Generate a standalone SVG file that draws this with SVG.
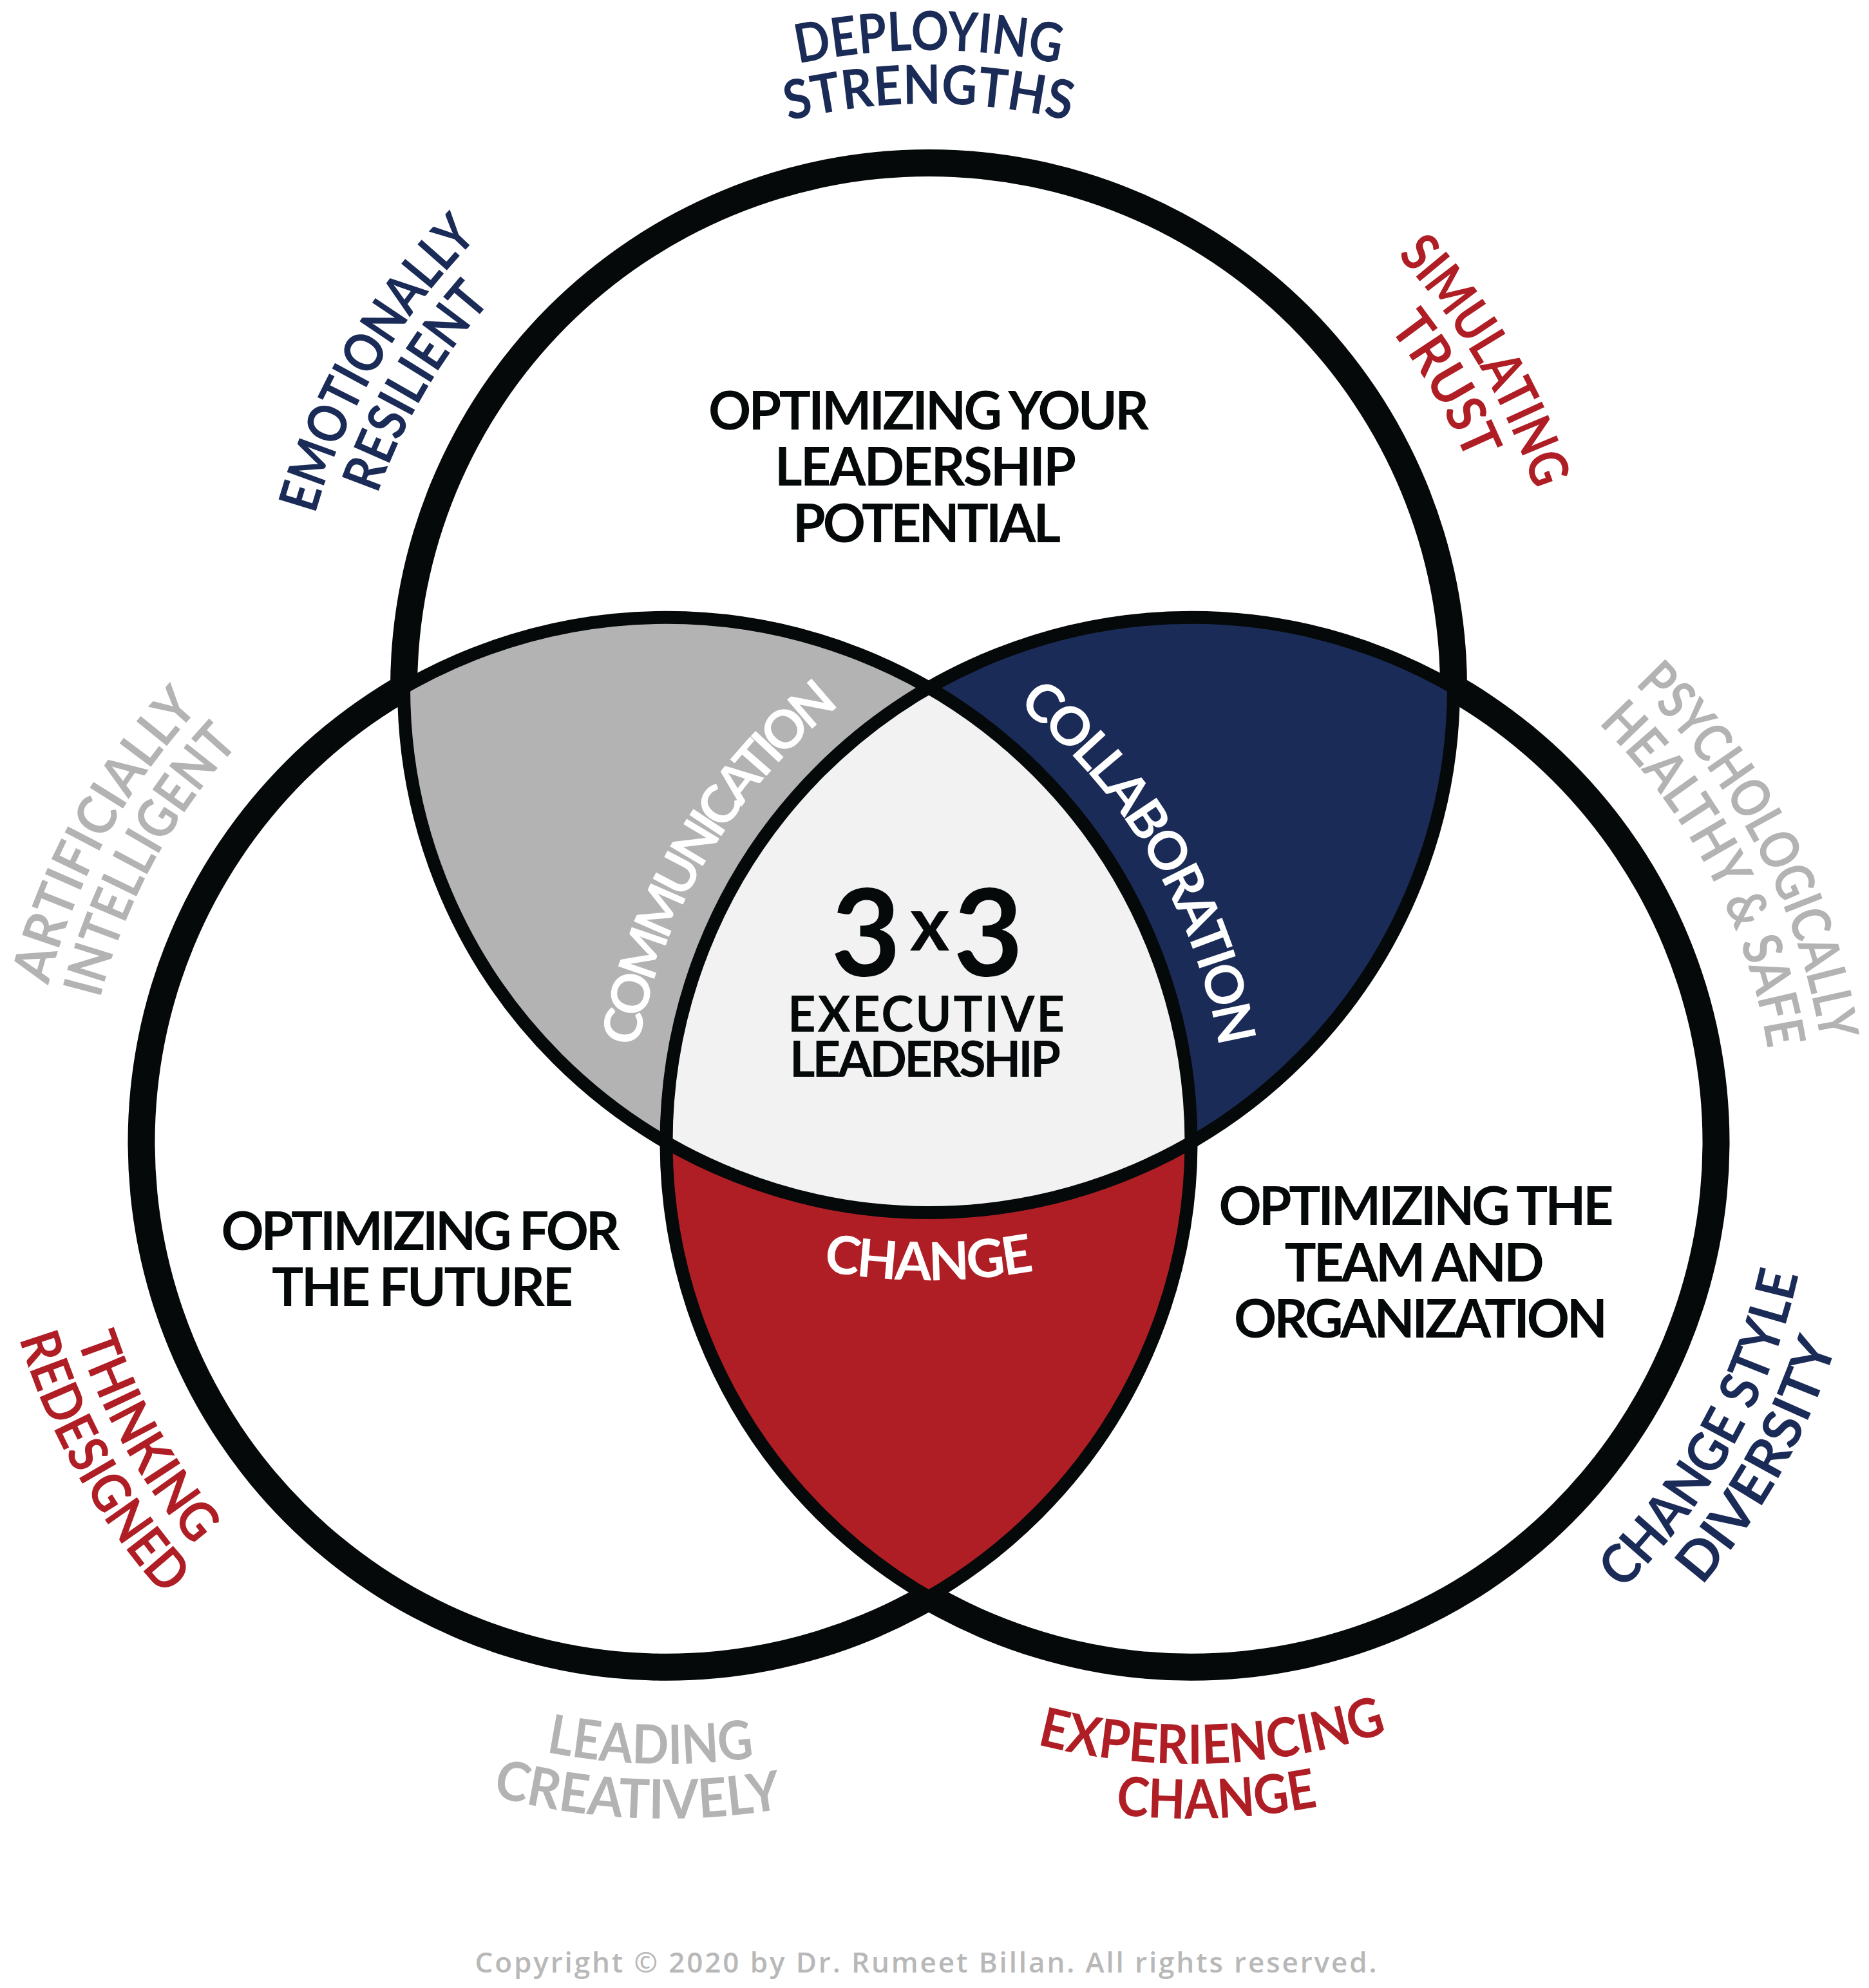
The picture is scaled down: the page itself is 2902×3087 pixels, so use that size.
<svg xmlns="http://www.w3.org/2000/svg" xmlns:xlink="http://www.w3.org/1999/xlink" width="2902" height="3087" viewBox="0 0 2902 3087">
  <style>
    .t { font-family: Lato, 'Open Sans', 'Liberation Sans', sans-serif; font-weight: 700; }
    .outer { font-size: 84px; text-anchor: middle; }
    .inner { font-size: 82px; text-anchor: middle; fill: #050909; }
    .white { font-size: 82px; text-anchor: middle; fill: #ffffff; }
    .navy { fill: #1b2b57; }
    .red { fill: #b01e25; }
    .grey { fill: #b3b3b3; }
    .band { fill: #050909; }
    .hole { fill: #ffffff; }
    .ring { fill: none; stroke: #050909; stroke-width: 20; }
  </style>
  <defs>
    <clipPath id="clipT"><circle cx="1442" cy="1068" r="815"/></clipPath>
    <clipPath id="clipL"><circle cx="1034.5" cy="1773.8" r="815"/></clipPath>
    <clipPath id="clipR"><circle cx="1849.5" cy="1773.8" r="815"/></clipPath>
    <!-- top circle label arcs -->
    <path id="pDeploy" d="M741.96,367.96 A990,990 0 0 1 2142.04,367.96"/>
    <path id="pStrength" d="M800.65,426.65 A907,907 0 0 1 2083.35,426.65"/>
    <path id="pEmot" d="M484.0,1317.6 A990,990 0 0 1 1192.4,110.0"/>
    <path id="pResil" d="M564.3,1296.7 A907,907 0 0 1 1213.3,190.3"/>
    <path id="pSimul" d="M1691.6,110.0 A990,990 0 0 1 2400.0,1317.6"/>
    <path id="pTrust" d="M1670.7,190.3 A907,907 0 0 1 2319.7,1296.7"/>
    <!-- left circle label arcs -->
    <path id="pArtif" d="M84.8,2053.3 A990,990 0 0 1 755.0,824.1"/>
    <path id="pIntel" d="M164.4,2029.8 A907,907 0 0 1 778.5,903.7"/>
    <path id="pThink" d="M104.6,1515.9 A965,965 0 0 0 776.6,2703.7"/>
    <path id="pRedes" d="M22.7,1493.2 A1050,1050 0 0 0 753.9,2785.6"/>
    <path id="pLead" d="M334.5,2438.1 A965,965 0 0 0 1698.8,2473.8"/>
    <path id="pCreat" d="M260.3,2483.2 A1050,1050 0 0 0 1743.9,2548.0"/>
    <!-- right circle label arcs -->
    <path id="pPsych" d="M2147.2,829.6 A990,990 0 0 1 2793.7,2071.5"/>
    <path id="pHealthy" d="M2122.2,908.8 A907,907 0 0 1 2714.5,2046.5"/>
    <path id="pStyle" d="M2112.3,2702.3 A965,965 0 0 0 2778.0,1511.0"/>
    <path id="pDivers" d="M2135.4,2784.1 A1050,1050 0 0 0 2859.8,1487.9"/>
    <path id="pExper" d="M1191.4,2479.6 A965,965 0 0 0 2555.3,2431.9"/>
    <path id="pChange2" d="M1136.1,2544.2 A1050,1050 0 0 0 2619.9,2487.2"/>
    <!-- region label arcs -->
    <path id="pComm" d="M1006.3,1991.9 A871,871 0 0 1 1631.4,930.6"/>
    <path id="pCollab" d="M1252.6,930.6 A871,871 0 0 1 1877.7,1991.9"/>
    <path id="pChange" d="M791.5,1718.5 A920,920 0 0 0 2092.5,1718.5"/>
  </defs>

  <rect width="2902" height="3087" fill="#ffffff"/>

  <g id="venn">
    <g id="outer-band">
      <circle class="band" cx="1442" cy="1068" r="836"/>
      <circle class="band" cx="1034.5" cy="1773.8" r="836"/>
      <circle class="band" cx="1849.5" cy="1773.8" r="836"/>
      <circle class="hole" cx="1442" cy="1068" r="794"/>
      <circle class="hole" cx="1034.5" cy="1773.8" r="794"/>
      <circle class="hole" cx="1849.5" cy="1773.8" r="794"/>
    </g>
    <g id="region-communication">
      <circle cx="1034.5" cy="1773.8" r="815" fill="#b3b3b3" clip-path="url(#clipT)"/>
    </g>
    <g id="region-collaboration">
      <circle cx="1849.5" cy="1773.8" r="815" fill="#1b2b57" clip-path="url(#clipT)"/>
    </g>
    <g id="region-change">
      <circle cx="1849.5" cy="1773.8" r="815" fill="#b01e25" clip-path="url(#clipL)"/>
    </g>
    <g id="region-core" clip-path="url(#clipR)">
      <circle cx="1442" cy="1068" r="815" fill="#f2f2f2" clip-path="url(#clipL)"/>
    </g>
    <g id="rings">
      <circle class="ring" cx="1442" cy="1068" r="815"/>
      <circle class="ring" cx="1034.5" cy="1773.8" r="815"/>
      <circle class="ring" cx="1849.5" cy="1773.8" r="815"/>
    </g>
  </g>

  <g id="node-top">
    <text class="t inner" x="1442" y="667" textLength="684" lengthAdjust="spacing">OPTIMIZING YOUR</text>
    <text class="t inner" x="1437" y="754" textLength="468" lengthAdjust="spacing">LEADERSHIP</text>
    <text class="t inner" x="1439" y="842" textLength="416" lengthAdjust="spacing">POTENTIAL</text>
  </g>
  <g id="node-left">
    <text class="t inner" x="653" y="1941" textLength="619" lengthAdjust="spacing">OPTIMIZING FOR</text>
    <text class="t inner" x="656" y="2028" textLength="468" lengthAdjust="spacing">THE FUTURE</text>
  </g>
  <g id="node-right">
    <text class="t inner" x="2199" y="1902" textLength="613" lengthAdjust="spacing">OPTIMIZING THE</text>
    <text class="t inner" x="2196" y="1989.5" textLength="403" lengthAdjust="spacing">TEAM AND</text>
    <text class="t inner" x="2206" y="2077" textLength="580" lengthAdjust="spacing">ORGANIZATION</text>
  </g>
  <g id="node-core">
    <text class="t" x="1344.5" y="1516" font-size="187" text-anchor="middle" fill="#050909">3</text>
    <text class="t" x="1443.5" y="1476" font-size="118" text-anchor="middle" fill="#050909" font-weight="600">x</text>
    <text class="t" x="1534.5" y="1516" font-size="187" text-anchor="middle" fill="#050909">3</text>
    <text class="t" x="1438" y="1602" font-size="76" text-anchor="middle" fill="#050909" font-weight="600" textLength="430" lengthAdjust="spacing">EXECUTIVE</text>
    <text class="t" x="1436.5" y="1672" font-size="76" text-anchor="middle" fill="#050909" font-weight="600" textLength="421" lengthAdjust="spacing">LEADERSHIP</text>
  </g>
  <g id="node-communication">
    <text class="t white"><textPath href="#pComm" xlink:href="#pComm" startOffset="50%" textLength="630" lengthAdjust="spacing">COMMUNICATION</textPath></text>
  </g>
  <g id="node-collaboration">
    <text class="t white"><textPath href="#pCollab" xlink:href="#pCollab" startOffset="50%" textLength="630" lengthAdjust="spacing">COLLABORATION</textPath></text>
  </g>
  <g id="node-change">
    <text class="t white"><textPath href="#pChange" xlink:href="#pChange" startOffset="50%" textLength="330" lengthAdjust="spacing">CHANGE</textPath></text>
  </g>

  <g id="label-deploying">
    <text class="t outer navy"><textPath href="#pDeploy" xlink:href="#pDeploy" startOffset="50%" textLength="408" lengthAdjust="spacingAndGlyphs">DEPLOYING</textPath></text>
    <text class="t outer navy"><textPath href="#pStrength" xlink:href="#pStrength" startOffset="50%" textLength="440" lengthAdjust="spacingAndGlyphs">STRENGTHS</textPath></text>
  </g>
  <g id="label-emotionally">
    <text class="t outer navy"><textPath href="#pEmot" xlink:href="#pEmot" startOffset="50%" textLength="505" lengthAdjust="spacingAndGlyphs">EMOTIONALLY</textPath></text>
    <text class="t outer navy"><textPath href="#pResil" xlink:href="#pResil" startOffset="50%" textLength="350" lengthAdjust="spacingAndGlyphs">RESILIENT</textPath></text>
  </g>
  <g id="label-simulating">
    <text class="t outer red"><textPath href="#pSimul" xlink:href="#pSimul" startOffset="50%" textLength="425" lengthAdjust="spacingAndGlyphs">SIMULATING</textPath></text>
    <text class="t outer red"><textPath href="#pTrust" xlink:href="#pTrust" startOffset="50%" textLength="242" lengthAdjust="spacingAndGlyphs">TRUST</textPath></text>
  </g>
  <g id="label-artificially">
    <text class="t outer grey"><textPath href="#pArtif" xlink:href="#pArtif" startOffset="50%" textLength="495" lengthAdjust="spacingAndGlyphs">ARTIFICIALLY</textPath></text>
    <text class="t outer grey"><textPath href="#pIntel" xlink:href="#pIntel" startOffset="50%" textLength="455" lengthAdjust="spacingAndGlyphs">INTELLIGENT</textPath></text>
  </g>
  <g id="label-thinking">
    <text class="t outer red"><textPath href="#pThink" xlink:href="#pThink" startOffset="50%" textLength="370" lengthAdjust="spacingAndGlyphs">THINKING</textPath></text>
    <text class="t outer red"><textPath href="#pRedes" xlink:href="#pRedes" startOffset="50%" textLength="463" lengthAdjust="spacingAndGlyphs">REDESIGNED</textPath></text>
  </g>
  <g id="label-leading">
    <text class="t outer grey"><textPath href="#pLead" xlink:href="#pLead" startOffset="50%" textLength="325" lengthAdjust="spacingAndGlyphs">LEADING</textPath></text>
    <text class="t outer grey"><textPath href="#pCreat" xlink:href="#pCreat" startOffset="50%" textLength="455" lengthAdjust="spacingAndGlyphs">CREATIVELY</textPath></text>
  </g>
  <g id="label-psychologically">
    <text class="t outer grey"><textPath href="#pPsych" xlink:href="#pPsych" startOffset="50%" textLength="636" lengthAdjust="spacingAndGlyphs">PSYCHOLOGICALLY</textPath></text>
    <text class="t outer grey"><textPath href="#pHealthy" xlink:href="#pHealthy" startOffset="50%" textLength="580" lengthAdjust="spacingAndGlyphs">HEALTHY &amp; SAFE</textPath></text>
  </g>
  <g id="label-changestyle">
    <text class="t outer navy"><textPath href="#pStyle" xlink:href="#pStyle" startOffset="50%" textLength="570" lengthAdjust="spacingAndGlyphs">CHANGE STYLE</textPath></text>
    <text class="t outer navy"><textPath href="#pDivers" xlink:href="#pDivers" startOffset="50%" textLength="432" lengthAdjust="spacingAndGlyphs">DIVERSITY</textPath></text>
  </g>
  <g id="label-experiencing">
    <text class="t outer red"><textPath href="#pExper" xlink:href="#pExper" startOffset="50%" textLength="552" lengthAdjust="spacingAndGlyphs">EXPERIENCING</textPath></text>
    <text class="t outer red"><textPath href="#pChange2" xlink:href="#pChange2" startOffset="50%" textLength="316" lengthAdjust="spacingAndGlyphs">CHANGE</textPath></text>
  </g>

  <g id="copyright">
    <text x="1437.5" y="3063" font-family="'Open Sans', Lato, 'Liberation Sans', sans-serif" font-weight="600" font-size="44" fill="#b8b8b8" text-anchor="middle" textLength="1400" lengthAdjust="spacing">Copyright © 2020 by Dr. Rumeet Billan. All rights reserved.</text>
  </g>
</svg>
